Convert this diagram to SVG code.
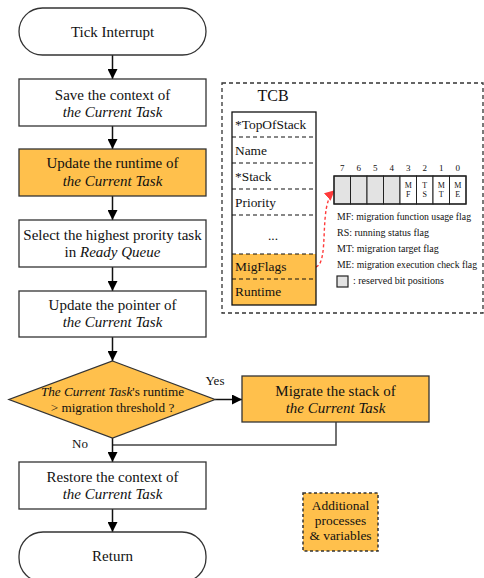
<svg xmlns="http://www.w3.org/2000/svg" width="484" height="578" viewBox="0 0 484 578" font-family="'Liberation Serif', 'DejaVu Serif', serif">
  <style>
    text { font-family: 'Liberation Serif', 'DejaVu Serif', serif; fill: #111; }
    .t { font-size: 15px; text-anchor: middle; }
    .i { font-style: italic; }
    .box { fill: #fff; stroke: #333; stroke-width: 1.3; }
    .hl { fill: #FFC04C; stroke: #333; stroke-width: 1.3; }
    .flow { stroke: #111; stroke-width: 1.5; fill: none; }
    .row { font-size: 13.4px; }
    .sep { stroke: #111; stroke-width: 1.2; stroke-dasharray: 4 3; fill: none; }
    .leg { font-size: 10px; }
    .bitn { font-size: 9px; text-anchor: middle; }
    .bitl { font-size: 8px; text-anchor: middle; }
    .cell { stroke: #222; stroke-width: 1; }
  </style>
  <defs>
    <marker id="arrBig" viewBox="0 0 10 10" refX="10" refY="5" markerWidth="10" markerHeight="10" markerUnits="userSpaceOnUse" orient="auto">
      <path d="M0,0 L10,5 L0,10 z" fill="#000"/>
    </marker>
    <marker id="arrRed" viewBox="0 0 10 10" refX="9" refY="5" markerWidth="10" markerHeight="10" markerUnits="userSpaceOnUse" orient="auto">
      <path d="M0,0 L10,5 L0,10 z" fill="#ff3b3b"/>
    </marker>
  </defs>

  <!-- connectors -->
  <g id="connectors">
    <line class="flow" x1="112.5" y1="55" x2="112.5" y2="79" marker-end="url(#arrBig)"/>
    <line class="flow" x1="112.5" y1="126" x2="112.5" y2="149" marker-end="url(#arrBig)"/>
    <line class="flow" x1="112.5" y1="196" x2="112.5" y2="220" marker-end="url(#arrBig)"/>
    <line class="flow" x1="112.5" y1="267" x2="112.5" y2="291" marker-end="url(#arrBig)"/>
    <line class="flow" x1="112.5" y1="337" x2="112.5" y2="361" marker-end="url(#arrBig)"/>
    <line class="flow" x1="215" y1="399.5" x2="242" y2="399.5" marker-end="url(#arrBig)"/>
    <polyline class="flow" points="336,422 336,445 112.5,445" style="stroke:#444"/>
    <line class="flow" x1="112.5" y1="438" x2="112.5" y2="462" marker-end="url(#arrBig)"/>
    <line class="flow" x1="112.5" y1="509" x2="112.5" y2="532" marker-end="url(#arrBig)"/>
    <path d="M316,267 C330,262 318,205 334,191" fill="none" stroke="#ff3b3b" stroke-width="1.4" stroke-dasharray="3 2.5" marker-end="url(#arrRed)"/>
    <text x="215" y="385" style="font-size:13px" text-anchor="middle">Yes</text>
    <text x="80" y="448" style="font-size:13px" text-anchor="middle">No</text>
  </g>

  <g id="start">
    <rect class="box" x="19" y="8" width="187" height="47" rx="23.5"/>
    <text class="t" x="112.5" y="37">Tick Interrupt</text>
  </g>

  <g id="save">
    <rect class="box" x="19" y="79" width="187" height="47"/>
    <text class="t" x="112.5" y="100">Save the context of</text>
    <text class="t i" x="112.5" y="117">the Current Task</text>
  </g>

  <g id="update-runtime">
    <rect class="hl" x="19" y="149" width="187" height="47"/>
    <text class="t" x="112.5" y="168">Update the runtime of</text>
    <text class="t i" x="112.5" y="186">the Current Task</text>
  </g>

  <g id="select">
    <rect class="box" x="19" y="220" width="187" height="47"/>
    <text class="t" x="112.5" y="240">Select the highest prority task</text>
    <text class="t" x="112.5" y="257">in <tspan class="i">Ready Queue</tspan></text>
  </g>

  <g id="update-pointer">
    <rect class="box" x="19" y="291" width="187" height="46"/>
    <text class="t" x="112.5" y="310">Update the pointer of</text>
    <text class="t i" x="112.5" y="327">the Current Task</text>
  </g>

  <g id="decision">
    <polygon class="hl" points="112.5,361 215,399.5 112.5,438 9,399.5"/>
    <text class="t" style="font-size:13.2px" x="112.5" y="396"><tspan class="i">The Current Task</tspan>'s runtime</text>
    <text class="t" style="font-size:13.2px" x="112.5" y="412">&gt;  migration threshold ?</text>
  </g>

  <g id="migrate">
    <rect class="hl" x="242" y="376" width="187" height="46"/>
    <text class="t" x="335.5" y="396">Migrate the stack of</text>
    <text class="t i" x="335.5" y="413">the Current Task</text>
  </g>

  <g id="restore">
    <rect class="box" x="19" y="462" width="187" height="47"/>
    <text class="t" x="112.5" y="482">Restore the context of</text>
    <text class="t i" x="112.5" y="499">the Current Task</text>
  </g>

  <g id="end">
    <rect class="box" x="19" y="532" width="187" height="50" rx="24"/>
    <text class="t" x="112.5" y="561">Return</text>
  </g>

  <!-- task control block panel -->
  <g id="tcb">
    <rect x="222" y="83" width="261" height="230" fill="none" stroke="#333" stroke-width="1.3" stroke-dasharray="4 3"/>
    <text x="273" y="101" style="font-size:16px" text-anchor="middle">TCB</text>
    <rect x="232" y="254" width="84" height="51" fill="#FFC04C"/>
    <rect x="232" y="112" width="84" height="193" fill="none" stroke="#111" stroke-width="1.3"/>
    <line class="sep" x1="232" y1="137" x2="316" y2="137"/>
    <line class="sep" x1="232" y1="163" x2="316" y2="163"/>
    <line class="sep" x1="232" y1="189" x2="316" y2="189"/>
    <line class="sep" x1="232" y1="215" x2="316" y2="215"/>
    <line class="sep" x1="232" y1="254" x2="316" y2="254"/>
    <line class="sep" x1="232" y1="279" x2="316" y2="279"/>
    <text class="row" x="235" y="129">*TopOfStack</text>
    <text class="row" x="235" y="155">Name</text>
    <text class="row" x="235" y="181">*Stack</text>
    <text class="row" x="235" y="207">Priority</text>
    <text class="row" x="273" y="240" text-anchor="middle">...</text>
    <text class="row" x="235" y="271">MigFlags</text>
    <text class="row" x="235" y="296">Runtime</text>
  </g>

  <g id="migflags-bits">
    <text class="bitn" x="342.3" y="171">7</text>
    <text class="bitn" x="358.8" y="171">6</text>
    <text class="bitn" x="375.3" y="171">5</text>
    <text class="bitn" x="391.8" y="171">4</text>
    <text class="bitn" x="408.3" y="171">3</text>
    <text class="bitn" x="424.8" y="171">2</text>
    <text class="bitn" x="441.3" y="171">1</text>
    <text class="bitn" x="457.8" y="171">0</text>
    <rect class="cell" x="334" y="176" width="16.5" height="28" fill="#e3e3e3"/>
    <rect class="cell" x="350.5" y="176" width="16.5" height="28" fill="#e3e3e3"/>
    <rect class="cell" x="367" y="176" width="16.5" height="28" fill="#e3e3e3"/>
    <rect class="cell" x="383.5" y="176" width="16.5" height="28" fill="#e3e3e3"/>
    <rect class="cell" x="400" y="176" width="16.5" height="28" fill="#fff"/>
    <rect class="cell" x="416.5" y="176" width="16.5" height="28" fill="#fff"/>
    <rect class="cell" x="433" y="176" width="16.5" height="28" fill="#fff"/>
    <rect class="cell" x="449.5" y="176" width="16.5" height="28" fill="#fff"/>
    <rect x="334" y="176" width="132" height="28" fill="none" stroke="#222" stroke-width="1.3"/>
    <text class="bitl" x="408.3" y="188">M</text><text class="bitl" x="408.3" y="197">F</text>
    <text class="bitl" x="424.8" y="188">T</text><text class="bitl" x="424.8" y="197">S</text>
    <text class="bitl" x="441.3" y="188">M</text><text class="bitl" x="441.3" y="197">T</text>
    <text class="bitl" x="457.8" y="188">M</text><text class="bitl" x="457.8" y="197">E</text>
    <text class="leg" x="337" y="220" textLength="134" lengthAdjust="spacingAndGlyphs">MF: migration function usage flag</text>
    <text class="leg" x="337" y="236">RS: running status flag</text>
    <text class="leg" x="337" y="252">MT: migration target flag</text>
    <text class="leg" x="337" y="268" textLength="140" lengthAdjust="spacingAndGlyphs">ME: migration execution check flag</text>
    <rect x="337" y="276" width="11" height="11" fill="#e3e3e3" stroke="#222" stroke-width="1.2"/>
    <text class="leg" x="353" y="284">: reserved bit positions</text>
  </g>

  <g id="legend-additional">
    <rect x="303" y="493" width="75" height="58" fill="#FFC04C" stroke="#333" stroke-width="1.5" stroke-dasharray="3 2.5"/>
    <text class="row" x="340.5" y="510" text-anchor="middle">Additional</text>
    <text class="row" x="340.5" y="525" text-anchor="middle">processes</text>
    <text class="row" x="340.5" y="540" text-anchor="middle">&amp; variables</text>
  </g>
</svg>
